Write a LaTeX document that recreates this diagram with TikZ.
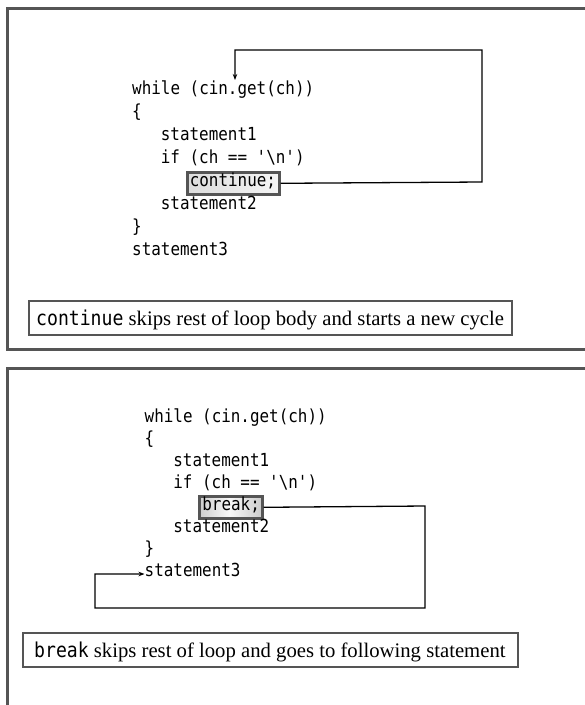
\documentclass[tikz,border=0pt]{standalone}
\usepackage{fontspec}
\usepackage{graphicx}
\setmainfont{Liberation Serif}
\newfontfamily\codefont{DejaVu Sans Mono}
\usetikzlibrary{arrows.meta}
\definecolor{framegray}{HTML}{555555}
\newcommand{\cd}[1]{\scalebox{0.884}[1]{\codefont\fontsize{18}{18}\selectfont #1}}
\newcommand{\capcode}[1]{\scalebox{0.884}[1]{\codefont\fontsize{20.5}{20}\selectfont #1}}
\tikzset{
  code/.style={anchor=base west, inner sep=0pt},
  frame/.style={draw=framegray, line width=3pt},
  kwbox/.style={draw=framegray, line width=2.6pt, inner sep=0pt},
  capbox/.style={draw=framegray, line width=2.6pt},
  captext/.style={anchor=base west, inner sep=0pt, font=\fontsize{20.7}{20}\selectfont},
  flow/.style={draw=black, line width=1.3pt},
  flowarrow/.style={flow, -{Stealth[length=6pt,width=4.5pt]}},
}
\begin{document}
\begin{tikzpicture}[x=1pt,y=1pt]
\useasboundingbox (0,0) rectangle (585,-705);
\clip (0,0) rectangle (585,-705);
\fill[white] (0,0) rectangle (585,-705);

% ---------- top panel: continue ----------
\draw[frame] (7,-8) rectangle (610,-349);
\node[code] (w1)  at (132,-94)    {\cd{while (cin.get(ch))}};
\node[code] (o1)  at (132,-117.1) {\cd{\{}};
\node[code] (a1)  at (160.7,-140.2) {\cd{statement1}};
\node[code] (i1)  at (160.7,-163.3) {\cd{if (ch == '\textbackslash n')}};
\fill[left color=gray!28, right color=gray!8] (186,-171) rectangle (278,-193);
\node[kwbox, minimum width=92pt, minimum height=22pt, anchor=north west] (cbox) at (186,-171) {};
\node[code] (c1)  at (189.6,-186.4) {\cd{continue;}};
\node[code] (b1)  at (160.7,-209.5) {\cd{statement2}};
\node[code] (e1)  at (132,-232.6) {\cd{\}}};
\node[code] (s1)  at (132,-255.7) {\cd{statement3}};
\coordinate (t1) at (235,-80);
\draw[flowarrow] (cbox.east) -- (482,-182) -- (482,-50) -- (235,-50) -- (t1);

\fill[white] (29,-301) rectangle (512,-335);
\draw[capbox] (29,-301) rectangle (512,-335);
\node[captext] (cap1) at (36,-325)
  {\capcode{continue} skips rest of loop body and starts a new cycle};

% ---------- bottom panel: break ----------
\draw[frame] (7,-368) rectangle (610,-760);
\node[code] (w2)  at (144.5,-422)    {\cd{while (cin.get(ch))}};
\node[code] (o2)  at (144.5,-444.1) {\cd{\{}};
\node[code] (a2)  at (173.2,-466.2) {\cd{statement1}};
\node[code] (i2)  at (173.2,-488.3) {\cd{if (ch == '\textbackslash n')}};
\fill[left color=gray!40, right color=gray!40, middle color=gray!5] (198,-495) rectangle (261,-517);
\node[kwbox, minimum width=63pt, minimum height=22pt, anchor=north west] (bbox) at (198,-495) {};
\node[code] (k2)  at (202.2,-510.4) {\cd{break;}};
\node[code] (b2)  at (173.2,-532.5) {\cd{statement2}};
\node[code] (e2)  at (144.5,-554.6) {\cd{\}}};
\node[code] (s2)  at (144.5,-576.7) {\cd{statement3}};
\coordinate (t2) at (144.5,-574);
\draw[flowarrow] (bbox.east) -- (425,-506) -- (425,-608) -- (95,-608) -- (95,-574) -- (t2);

\fill[white] (23,-633) rectangle (518,-667);
\draw[capbox] (23,-633) rectangle (518,-667);
\node[captext] (cap2) at (34,-657)
  {\capcode{break} skips rest of loop and goes to following statement};
\end{tikzpicture}
\end{document}
